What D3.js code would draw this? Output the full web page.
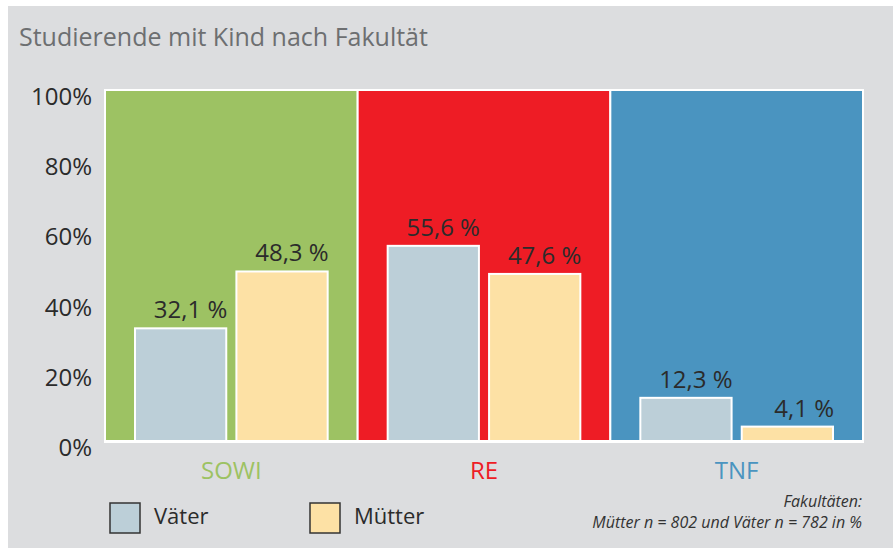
<!DOCTYPE html>
<html>
<head>
<meta charset="utf-8">
<script src="https://cdn.jsdelivr.net/npm/d3@7"></script>
<style>
  body { margin: 0; background: #ffffff; }
  svg { display: block; font-family: "Open Sans", sans-serif; }
</style>
</head>
<body>
<div id="chart"></div>
<script>
// Chart data
var faculties = ["SOWI", "RE", "TNF"];
var facultyColors = ["#9dc263", "#ee1c25", "#4a94c0"];
var series = ["Väter", "Mütter"];
var seriesColors = ["#bccfd8", "#fde1a5"];
var vaeter = [32.1, 55.6, 12.3];
var muetter = [48.3, 47.6, 4.1];
var yTicks = [0, 20, 40, 60, 80, 100];

var width = 895, height = 550;
var margin = { top: 90, right: 32, bottom: 109, left: 105 };

var svg = d3.select("#chart")
    .append("svg")
    .attr("width", width)
    .attr("height", height);

// Grey panel behind everything
svg.append("rect")
    .attr("x", 8).attr("y", 6)
    .attr("width", 885).attr("height", 542)
    .attr("fill", "#dcdddf");

svg.append("text")
    .attr("x", 19).attr("y", 46)
    .attr("fill", "#6d6f71")
    .style("font-size", "25px")
    .text("Studierende mit Kind nach Fakultät");

/**
 * Scales
 */
var xScale = d3.scaleBand()
    .domain(faculties)
    .range([margin.left, width - margin.right])
    .padding(0);

var innerScale = d3.scaleBand()
    .domain(series)
    .range([30, xScale.bandwidth() - 30])
    .paddingInner(0.1);

var yScale = d3.scaleLinear()
    .domain([0, 100])
    .range([height - margin.bottom, margin.top]);

// Faculty background panels
svg.selectAll("rect.panel")
    .data(faculties)
    .enter()
    .append("rect")
    .attr("class", "panel")
    .attr("x", function(d) { return xScale(d); })
    .attr("y", yScale(100))
    .attr("width", xScale.bandwidth())
    .attr("height", yScale(0) - yScale(100))
    .attr("fill", function(d, i) { return facultyColors[i]; })
    .attr("stroke", "#ffffff")
    .attr("stroke-width", 2);

// y axis labels
svg.selectAll("text.ytick")
    .data(yTicks)
    .enter()
    .append("text")
    .attr("class", "ytick")
    .attr("x", 92)
    .attr("y", function(d) { return yScale(d) + 15; })
    .attr("text-anchor", "end")
    .attr("fill", "#2b2b2b")
    .style("font-size", "24px")
    .text(function(d) { return d + "%"; });

// Bars
var rows = [];
faculties.forEach(function(f, i) {
    rows.push({ fac: f, key: series[0], value: vaeter[i], color: seriesColors[0] });
    rows.push({ fac: f, key: series[1], value: muetter[i], color: seriesColors[1] });
});

svg.selectAll("rect.bar")
    .data(rows)
    .enter()
    .append("rect")
    .attr("class", "bar")
    .attr("x", function(d) { return xScale(d.fac) + innerScale(d.key); })
    .attr("y", function(d) { return yScale(d.value); })
    .attr("width", innerScale.bandwidth())
    .attr("height", function(d) { return yScale(0) - yScale(d.value); })
    .attr("fill", function(d) { return d.color; })
    .attr("stroke", "#ffffff")
    .attr("stroke-width", 2);

// Value labels, right aligned to the bar
svg.selectAll("text.val")
    .data(rows)
    .enter()
    .append("text")
    .attr("class", "val")
    .attr("x", function(d) { return xScale(d.fac) + innerScale(d.key) + innerScale.bandwidth() + 1; })
    .attr("y", function(d) { return yScale(d.value) - 10; })
    .attr("text-anchor", "end")
    .attr("fill", "#2b2b2b")
    .style("font-size", "24px")
    .text(function(d) { return d.value.toFixed(1).replace(".", ",") + " %"; });

// Baseline
svg.append("line")
    .attr("x1", margin.left - 1).attr("x2", width - margin.right + 1)
    .attr("y1", yScale(0) + 1).attr("y2", yScale(0) + 1)
    .attr("stroke", "#ffffff")
    .attr("stroke-width", 2);

// Faculty labels
svg.selectAll("text.fac")
    .data(faculties)
    .enter()
    .append("text")
    .attr("class", "fac")
    .attr("x", function(d) { return xScale(d) + xScale.bandwidth() / 2; })
    .attr("y", 479)
    .attr("text-anchor", "middle")
    .attr("fill", function(d, i) { return facultyColors[i]; })
    .style("font-size", "24px")
    .text(function(d) { return d; });

// Legend
var legendX = [110, 310];
var legend = svg.selectAll("g.legend")
    .data(series)
    .enter()
    .append("g")
    .attr("class", "legend")
    .attr("transform", function(d, i) { return "translate(" + legendX[i] + ",503)"; });

legend.append("rect")
    .attr("width", 30).attr("height", 30)
    .attr("fill", function(d, i) { return seriesColors[i]; })
    .attr("stroke", "#333333")
    .attr("stroke-width", 1.5);

legend.append("text")
    .attr("x", 44).attr("y", 21)
    .attr("fill", "#2b2b2b")
    .style("font-size", "22px")
    .text(function(d) { return d; });

// Footnote
var note = ["Fakultäten:", "Mütter n = 802 und Väter n = 782 in %"];
svg.selectAll("text.note")
    .data(note)
    .enter()
    .append("text")
    .attr("class", "note")
    .attr("x", 862)
    .attr("y", function(d, i) { return 507 + i * 21; })
    .attr("text-anchor", "end")
    .attr("fill", "#333333")
    .style("font-size", "16px")
    .style("font-style", "italic")
    .text(function(d) { return d; });
</script>
</body>
</html>
